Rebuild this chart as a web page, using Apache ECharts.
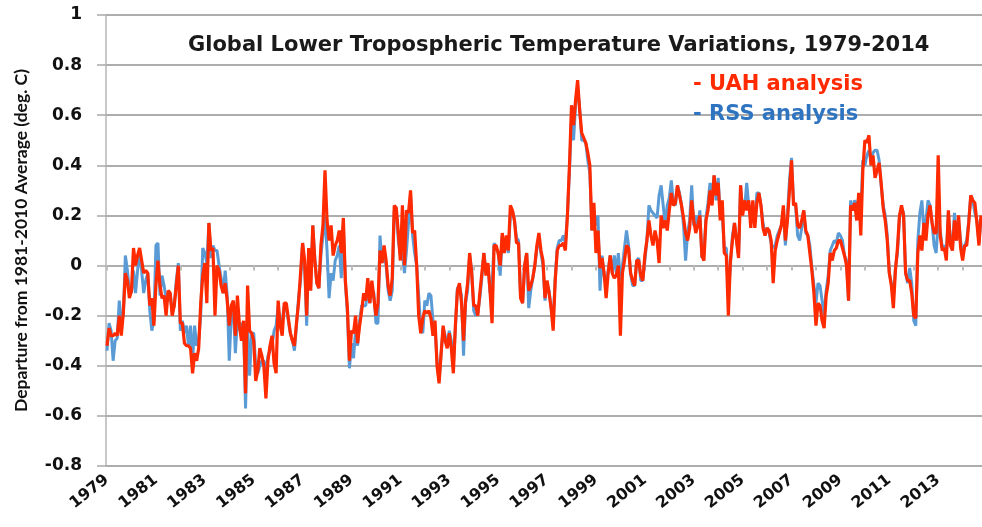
<!DOCTYPE html>
<html>
<head>
<meta charset="utf-8">
<title>Global Lower Tropospheric Temperature Variations, 1979-2014</title>
<script src="https://cdn.jsdelivr.net/npm/echarts@6/dist/echarts.min.js"></script>
<style>
  html, body { margin: 0; padding: 0; background: #fff; }
  #tlt-chart { width: 982px; height: 527px; }
</style>
</head>
<body>
<div id="tlt-chart"></div>
<script>
// monthly departures (deg. C), one row per year, Jan 1979 onward
const firstYear = 1979;

const uahValues = [
  -0.32, -0.25, -0.28, -0.28, -0.27, -0.28, -0.20, -0.28, -0.19, -0.03, -0.06, -0.13,
  -0.10, 0.07, 0.00, 0.04, 0.07, 0.02, -0.03, -0.02, -0.03, -0.16, -0.13, -0.24,
  -0.08, 0.02, -0.08, -0.13, -0.12, -0.20, -0.10, -0.11, -0.20, -0.16, -0.08, 0.00,
  -0.23, -0.23, -0.31, -0.32, -0.32, -0.33, -0.43, -0.35, -0.38, -0.33, -0.15, -0.04,
  0.01, -0.15, 0.17, 0.06, 0.07, -0.20, 0.00, -0.02, -0.08, -0.11, -0.07, -0.14,
  -0.24, -0.16, -0.14, -0.28, -0.12, -0.24, -0.30, -0.22, -0.51, -0.08, -0.26, -0.27,
  -0.30, -0.46, -0.42, -0.33, -0.36, -0.40, -0.53, -0.38, -0.32, -0.28, -0.39, -0.43,
  -0.14, -0.24, -0.28, -0.15, -0.15, -0.21, -0.27, -0.30, -0.32, -0.23, -0.15, -0.03,
  0.09, 0.02, -0.20, 0.07, -0.10, 0.16, 0.02, -0.07, -0.09, 0.08, 0.16, 0.38,
  0.18, 0.10, 0.16, 0.04, 0.08, 0.10, 0.14, 0.05, 0.19, -0.06, -0.17, -0.38,
  -0.26, -0.27, -0.20, -0.31, -0.24, -0.18, -0.11, -0.14, -0.05, -0.15, -0.06, -0.13,
  -0.20, -0.15, 0.06, 0.01, 0.08, 0.02, -0.08, -0.12, -0.05, 0.24, 0.23, 0.13,
  0.02, 0.24, 0.00, 0.22, 0.21, 0.30, 0.13, 0.14, 0.00, -0.20, -0.27, -0.21,
  -0.18, -0.19, -0.18, -0.21, -0.28, -0.22, -0.40, -0.47, -0.35, -0.24, -0.30, -0.33,
  -0.27, -0.33, -0.43, -0.24, -0.10, -0.07, -0.15, -0.30, -0.14, -0.07, 0.05, -0.03,
  -0.16, -0.16, -0.20, -0.11, -0.03, 0.05, -0.04, 0.01, -0.10, -0.23, 0.08, 0.08,
  0.05, 0.00, 0.13, 0.05, 0.12, 0.06, 0.24, 0.22, 0.18, 0.09, 0.09, -0.13,
  -0.15, 0.00, 0.05, -0.10, -0.08, -0.05, 0.00, 0.08, 0.13, 0.06, 0.02, -0.13,
  -0.06, -0.11, -0.17, -0.26, -0.06, 0.06, 0.08, 0.08, 0.09, 0.06, 0.20, 0.40,
  0.64, 0.56, 0.66, 0.74, 0.62, 0.53, 0.51, 0.49, 0.45, 0.40, 0.14, 0.25,
  0.05, 0.14, -0.01, 0.03, -0.03, -0.13, -0.03, 0.04, -0.03, -0.05, -0.04, 0.00,
  -0.28, -0.03, 0.02, 0.08, 0.07, -0.03, -0.06, -0.08, 0.02, 0.02, -0.04, -0.06,
  0.04, 0.10, 0.18, 0.12, 0.08, 0.14, 0.10, 0.01, 0.20, 0.15, 0.18, 0.14,
  0.22, 0.29, 0.24, 0.25, 0.32, 0.28, 0.24, 0.19, 0.13, 0.10, 0.15, 0.26,
  0.18, 0.13, 0.16, 0.20, 0.04, 0.02, 0.18, 0.22, 0.30, 0.24, 0.36, 0.28,
  0.33, 0.18, 0.26, 0.05, 0.04, -0.20, 0.02, 0.10, 0.17, 0.10, 0.03, 0.32,
  0.20, 0.26, 0.22, 0.26, 0.15, 0.26, 0.15, 0.25, 0.29, 0.24, 0.15, 0.12,
  0.15, 0.14, 0.10, -0.07, 0.06, 0.10, 0.13, 0.16, 0.24, 0.10, 0.18, 0.30,
  0.42, 0.24, 0.25, 0.16, 0.15, 0.18, 0.22, 0.14, 0.12, 0.05, -0.02, -0.11,
  -0.24, -0.15, -0.16, -0.22, -0.25, -0.12, -0.07, 0.05, 0.02, 0.06, 0.07, 0.10,
  0.10, 0.07, 0.04, 0.00, -0.14, 0.24, 0.22, 0.25, 0.18, 0.29, 0.12, 0.38,
  0.50, 0.49, 0.52, 0.40, 0.44, 0.35, 0.38, 0.41, 0.33, 0.23, 0.18, 0.10,
  -0.03, -0.08, -0.17, -0.02, 0.07, 0.20, 0.24, 0.20, -0.03, -0.06, -0.06, -0.11,
  -0.20, -0.21, 0.05, 0.12, 0.06, 0.17, 0.10, 0.20, 0.24, 0.17, 0.13, 0.13,
  0.44, 0.12, 0.06, 0.07, 0.02, 0.22, 0.08, 0.06, 0.18, 0.10, 0.20, 0.07,
  0.02, 0.08, 0.08, 0.17, 0.28, 0.26, 0.25, 0.17, 0.08, 0.20
];

const rssValues = [
  -0.34, -0.23, -0.26, -0.38, -0.30, -0.29, -0.14, -0.22, -0.20, 0.04, -0.02, -0.10,
  -0.11, -0.02, -0.11, -0.02, 0.06, -0.02, -0.11, -0.06, -0.03, -0.18, -0.26, -0.22,
  0.08, 0.09, -0.12, -0.04, -0.08, -0.13, -0.14, -0.11, -0.19, -0.16, -0.06, 0.01,
  -0.26, -0.22, -0.27, -0.24, -0.32, -0.24, -0.38, -0.24, -0.32, -0.30, -0.20, 0.07,
  0.05, 0.01, 0.17, 0.03, 0.08, 0.06, 0.06, 0.00, -0.05, -0.11, -0.02, -0.12,
  -0.38, -0.20, -0.16, -0.35, -0.22, -0.26, -0.23, -0.24, -0.57, -0.24, -0.44, -0.27,
  -0.27, -0.40, -0.43, -0.40, -0.38, -0.38, -0.43, -0.36, -0.34, -0.32, -0.26, -0.24,
  -0.16, -0.24, -0.22, -0.16, -0.17, -0.22, -0.27, -0.30, -0.34, -0.24, -0.13, -0.06,
  0.09, 0.00, -0.24, 0.05, -0.08, 0.16, 0.03, -0.07, -0.09, 0.04, 0.12, 0.20,
  0.06, -0.13, -0.03, -0.06, 0.02, 0.04, 0.08, -0.05, 0.16, -0.07, -0.19, -0.41,
  -0.31, -0.37, -0.26, -0.32, -0.22, -0.16, -0.16, -0.16, -0.10, -0.15, -0.09, -0.11,
  -0.23, -0.23, 0.12, 0.01, 0.05, 0.00, -0.10, -0.14, -0.10, 0.22, 0.22, 0.10,
  0.04, 0.05, -0.03, 0.06, 0.17, 0.28, 0.12, 0.05, 0.00, -0.12, -0.25, -0.27,
  -0.14, -0.16, -0.11, -0.12, -0.22, -0.25, -0.38, -0.46, -0.35, -0.25, -0.28, -0.32,
  -0.26, -0.30, -0.40, -0.25, -0.09, -0.08, -0.12, -0.36, -0.15, -0.10, 0.04, -0.02,
  -0.18, -0.20, -0.19, -0.13, -0.05, 0.05, -0.02, 0.00, -0.11, -0.08, 0.09, 0.07,
  0.05, -0.04, 0.12, 0.06, 0.09, 0.05, 0.20, 0.22, 0.18, 0.11, 0.10, -0.12,
  -0.15, 0.00, 0.05, -0.17, -0.10, -0.05, 0.00, 0.07, 0.10, 0.05, 0.00, -0.14,
  -0.07, -0.10, -0.17, -0.22, -0.05, 0.07, 0.10, 0.10, 0.12, 0.09, 0.20, 0.38,
  0.58, 0.50, 0.64, 0.71, 0.63, 0.50, 0.50, 0.49, 0.42, 0.37, 0.14, 0.22,
  0.16, 0.20, -0.10, 0.04, -0.04, -0.08, -0.02, 0.04, -0.03, 0.04, -0.03, 0.05,
  -0.06, 0.00, 0.07, 0.14, 0.08, -0.03, -0.08, -0.08, 0.02, 0.03, -0.06, -0.06,
  0.02, 0.10, 0.24, 0.22, 0.21, 0.20, 0.19, 0.28, 0.32, 0.24, 0.16, 0.24,
  0.27, 0.34, 0.25, 0.24, 0.32, 0.29, 0.24, 0.16, 0.02, 0.13, 0.18, 0.32,
  0.16, 0.20, 0.16, 0.22, 0.03, 0.05, 0.19, 0.25, 0.33, 0.28, 0.36, 0.26,
  0.35, 0.20, 0.20, 0.07, 0.07, -0.12, 0.00, 0.12, 0.17, 0.10, 0.04, 0.32,
  0.22, 0.23, 0.33, 0.24, 0.19, 0.24, 0.17, 0.29, 0.29, 0.24, 0.17, 0.13,
  0.15, 0.13, 0.09, 0.07, 0.08, 0.12, 0.14, 0.16, 0.21, 0.08, 0.20, 0.34,
  0.43, 0.25, 0.24, 0.12, 0.10, 0.15, 0.22, 0.13, 0.12, 0.08, -0.01, -0.08,
  -0.15, -0.07, -0.08, -0.14, -0.20, -0.10, -0.04, 0.06, 0.08, 0.10, 0.09, 0.13,
  0.12, 0.10, 0.04, 0.02, -0.14, 0.26, 0.22, 0.26, 0.24, 0.26, 0.21, 0.42,
  0.40, 0.44, 0.46, 0.42, 0.45, 0.46, 0.46, 0.42, 0.32, 0.24, 0.20, 0.12,
  -0.03, -0.07, -0.13, -0.01, 0.05, 0.19, 0.23, 0.21, -0.03, -0.07, -0.01, -0.07,
  -0.22, -0.24, 0.10, 0.21, 0.26, 0.13, 0.18, 0.26, 0.24, 0.17, 0.08, 0.05,
  0.18, 0.14, 0.07, 0.08, 0.05, 0.21, 0.10, 0.08, 0.21, 0.10, 0.18, 0.10,
  0.04, 0.08, 0.10, 0.18, 0.28, 0.26, 0.21, 0.18, 0.09, 0.19
];

const yMin = -0.8;
const yMax = 1;
const yStep = 0.2;

const uahColor = '#ff2a00';
const rssColor = '#5b9bd5';
const rssTextColor = '#2f74c0';
const gridColor = '#a9a9a9';
const labelFont = 'DejaVu Sans';

// plot box, px
const plotLeft = 106;
const plotTop = 15;
const plotBottom = 61;
const plotHeight = 527 - plotTop - plotBottom;

// month categories like "1979-01"
const months = uahValues.map((v, i) => {
  const y = firstYear + Math.floor(i / 12);
  const m = (i % 12) + 1;
  return y + '-' + (m < 10 ? '0' + m : m);
});

// horizontal grid lines at every y tick
const yTickValues = [];
for (let k = 0; k <= Math.round((yMax - yMin) / yStep); k++) {
  yTickValues.push(Math.round((yMin + k * yStep) * 10) / 10);
}
const gridLines = yTickValues.map((v) => ({ yAxis: v }));

// short yearly tick marks hanging under the zero line
const zeroTickDepth = -0.02;
const zeroTicks = months
  .filter((m, i) => i % 12 === 0)
  .map((m) => [{ coord: [m, 0] }, { coord: [m, zeroTickDepth] }]);

const chart = echarts.init(document.getElementById('tlt-chart'));

const option = {
  animation: false,
  title: {
    text: 'Global Lower Tropospheric Temperature Variations, 1979-2014',
    left: 183,
    top: 30,
    textStyle: {
      fontFamily: labelFont,
      fontWeight: 'bold',
      fontSize: 21,
      color: '#1a1a1a',
    },
  },
  legend: {
    orient: 'vertical',
    left: 683,
    top: 69,
    itemGap: 9,
    itemWidth: 0,
    itemHeight: 0,
    selectedMode: false,
    formatter: (name) => '- ' + name,
    textStyle: {
      fontFamily: labelFont,
      fontWeight: 'bold',
      fontSize: 21,
    },
    data: [
      { name: 'UAH analysis', icon: 'none', textStyle: { color: uahColor } },
      { name: 'RSS analysis', icon: 'none', textStyle: { color: rssTextColor } },
    ],
  },
  // y axis title, drawn as plain text beside the axis
  graphic: [
    {
      type: 'text',
      x: 21,
      y: plotTop + plotHeight / 2,
      rotation: Math.PI / 2,
      style: {
        text: 'Departure from 1981-2010 Average (deg. C)',
        font: 'bold 17.5px Lato',
        fill: '#111',
        align: 'center',
        verticalAlign: 'middle',
      },
    },
  ],
  grid: { left: plotLeft, right: 0, top: plotTop, bottom: plotBottom },
  xAxis: {
    type: 'category',
    data: months,
    boundaryGap: true,
    axisLine: { show: false, onZero: false },
    axisTick: { show: false },
    axisLabel: {
      interval: 23,
      formatter: (value) => value.slice(0, 4),
      rotate: 38,
      margin: 12,
      fontFamily: labelFont,
      fontWeight: 'bold',
      fontSize: 16,
      color: '#111',
    },
    splitLine: { show: false },
  },
  yAxis: {
    type: 'value',
    min: yMin,
    max: yMax,
    interval: yStep,
    axisLine: { show: true, onZero: false, lineStyle: { color: '#c8c8c8', width: 2 } },
    axisTick: { show: true, inside: false, length: 9, lineStyle: { color: gridColor, width: 1.5 } },
    axisLabel: {
      margin: 24,
      fontFamily: labelFont,
      fontWeight: 'bold',
      fontSize: 17,
      color: '#111',
    },
    splitLine: { show: true, lineStyle: { color: gridColor, width: 1.5 } },
  },
  series: [
    {
      name: 'RSS analysis',
      type: 'line',
      data: rssValues,
      showSymbol: false,
      lineStyle: { color: rssColor, width: 3 },
      itemStyle: { color: rssColor },
      z: 3,
      markLine: {
        z: 1,
        silent: true,
        symbol: 'none',
        animation: false,
        label: { show: false },
        emphasis: { disabled: true },
        lineStyle: { color: gridColor, width: 1.5, type: 'solid' },
        data: gridLines,
      },
    },
    {
      name: 'UAH analysis',
      type: 'line',
      data: uahValues,
      showSymbol: false,
      lineStyle: { color: uahColor, width: 3.2 },
      itemStyle: { color: uahColor },
      z: 4,
      markLine: {
        z: 1,
        silent: true,
        symbol: 'none',
        animation: false,
        label: { show: false },
        emphasis: { disabled: true },
        lineStyle: { color: '#bdbdbd', width: 2, type: 'solid' },
        data: zeroTicks,
      },
    },
  ],
};

chart.setOption(option);
window.addEventListener('resize', () => chart.resize());
</script>
</body>
</html>
